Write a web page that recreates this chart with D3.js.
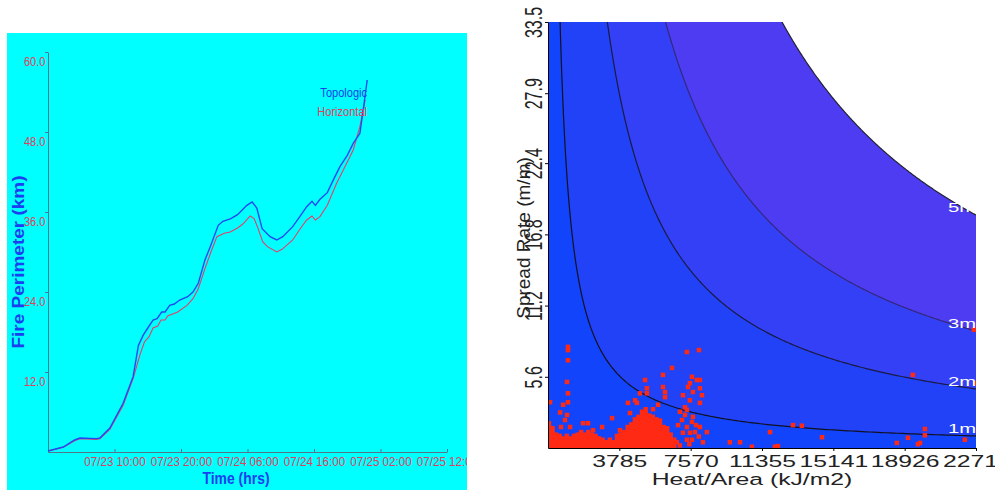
<!DOCTYPE html>
<html><head><meta charset="utf-8">
<script src="https://cdn.jsdelivr.net/npm/d3@7"></script>
<style>
html,body{margin:0;padding:0;background:#fff;}
svg{display:block;}
text{font-family:"Liberation Sans",Arial,sans-serif;}
</style></head><body>
<svg id="c" width="995" height="490"></svg>
<script>
// ===== Left chart: fire perimeter over time =====
const timeStart = "07/23 00:00";
const timeEnd = "07/25 12:00";
const timeTickLabels = ["07/23 10:00","07/23 20:00","07/24 06:00","07/24 16:00","07/25 02:00","07/25 12:00"];
const perimeterTicks = [12, 24, 36, 48, 60];
const seriesNames = ["Topologic", "Horizontal"];

// hours after 07/23 00:00 and perimeter (km)
const topoHours = [0,2.3,4.0,4.8,7.3,7.8,9.3,11.3,12.8,13.6,14.3,15.0,15.8,16.4,17.1,17.6,18.3,19.0,19.8,21.0,21.8,22.6,23.6,24.4,25.6,26.3,27.5,28.5,29.9,30.7,31.4,32.2,33.4,34.4,35.3,36.8,38.0,38.9,39.7,40.2,40.9,42.0,43.0,43.9,45.0,45.9,46.9,47.4,48.0];
const topoKm =    [0.15,0.75,1.8,2.1,2.0,2.1,3.6,7.3,11.3,16.0,17.5,18.6,19.8,20.0,21.0,21.0,22.0,22.2,22.8,23.3,24.0,25.3,28.8,30.8,34.0,34.6,35.0,35.6,37.0,37.5,36.6,33.5,32.3,31.8,32.3,33.8,35.5,36.8,37.6,37.0,37.9,38.9,41.0,42.8,44.5,46.3,47.8,51.3,55.8];
const horizHours = [0,2.3,4.0,4.8,7.3,7.8,9.3,11.3,12.8,13.8,14.5,15.2,15.8,16.5,17.0,17.6,18.0,19.5,20.9,21.8,22.6,23.6,24.5,25.4,26.5,27.4,28.5,29.3,30.4,31.0,31.6,32.3,33.0,34.4,35.2,36.8,38.0,38.9,39.7,40.2,40.9,42.0,43.4,44.5,45.9,46.9,47.7];
const horizKm =    [0.15,0.7,1.7,2.0,1.9,2.0,3.4,7.0,11.0,14.5,16.5,17.3,18.6,18.9,19.8,19.8,20.4,21.0,22.0,23.0,24.5,27.5,30.0,32.3,32.8,33.0,33.6,34.2,35.4,35.0,33.5,31.5,30.8,30.0,30.4,31.8,33.6,34.8,35.4,34.8,35.3,37.0,40.3,42.5,45.3,48.8,52.8];

// ===== Right chart: fire characteristics =====
const heatTicks = [3785, 7570, 11355, 15141, 18926, 22711];
const rateTicks = [5.6, 11.2, 16.8, 22.4, 27.9, 33.5];
const flameLabels = ["1m", "2m", "3m", "5m"];
const flameHR = [21500, 105500, 209000, 416000]; // heat/area x spread rate along each flame-length contour
const bandColors = ["#1244fb", "#2242f7", "#3440f5", "#4e3cf3"];
const contourColors = ["#111122", "#1a1a44", "#35287a", "#222233"];

// dense part of the observed points: [heat/area, [spread rates...]]
const denseColumns = [
 [50,[0.15,0.45,0.75,1.05,1.35,1.65,1.95]],
 [240,[0.05,0.35,0.65,0.95,1.25,1.55]],
 [430,[0.15,0.45,0.75,1.05]],
 [620,[0.05,0.35,0.65,0.95]],
 [810,[0.15,0.45,0.75]],
 [1000,[0.05,0.35,0.65,0.95]],
 [1190,[0.15,0.45,0.75]],
 [1380,[0.05,0.35,0.65,0.95]],
 [1570,[0.15,0.45,0.75,1.05]],
 [1760,[0.05,0.35,0.65,0.95,1.25]],
 [1950,[0.15,0.45,0.75,1.05]],
 [2140,[0.05,0.35,0.65,0.95,1.25]],
 [2330,[0.15,0.45,0.75,1.05]],
 [2520,[0.05,0.35,0.65,0.95]],
 [2710,[0.15,0.45,0.75]],
 [2900,[0.05,0.35,0.65]],
 [3090,[0.15,0.45]],
 [3280,[0.05,0.35,0.65]],
 [3470,[0.15,0.45]],
 [3660,[0.05,0.35,0.65,0.95]],
 [3850,[0.15,0.45,0.75,1.05]],
 [4040,[0.05,0.35,0.65,0.95,1.25]],
 [4230,[0.15,0.45,0.75,1.05,1.35,1.65]],
 [4420,[0.05,0.35,0.65,0.95,1.25,1.55,1.85]],
 [4610,[0.15,0.45,0.75,1.05,1.35,1.65,1.95,2.25]],
 [4800,[0.05,0.35,0.65,0.95,1.25,1.55,1.85,2.15,2.45]],
 [4990,[0.15,0.45,0.75,1.05,1.35,1.65,1.95,2.25,2.55,2.85]],
 [5180,[0.05,0.35,0.65,0.95,1.25,1.55,1.85,2.15,2.45,2.75,3.05]],
 [5370,[0.15,0.45,0.75,1.05,1.35,1.65,1.95,2.25,2.55]],
 [5560,[0.05,0.35,0.65,0.95,1.25,1.55,1.85,2.15,2.45]],
 [5750,[0.15,0.45,0.75,1.05,1.35,1.65,1.95,2.25]],
 [5940,[0.05,0.35,0.65,0.95,1.25,1.55,1.85,2.15]],
 [6130,[0.15,0.45,0.75,1.05,1.35,1.65]],
 [6320,[0.05,0.35,0.65,0.95,1.25,1.55]],
 [6510,[0.15,0.45,0.75,1.05]],
 [6700,[0.05,0.35,0.65]]
];
// scattered observed points: [heat/area, spread rate]
const scatterPoints = [
 [1060,7.95],[1060,7.7],[1060,6.9],[1010,5.2],[1060,4.3],[1060,3.6],[1010,2.6],[900,2.2],[800,3.4],[640,2.8],[110,3.6],[690,1.65],[1170,1.65],
 [1860,1.95],[2120,1.95],[2390,1.4],[2870,1.65],[3400,2.35],[3820,1.4],[4350,2.75],[4620,3.75],[4880,4.3],[5150,5.35],[5250,4.7],[5250,4.3],
 [6100,5.75],[6100,4.8],[6210,4.4],[6210,4.0],[4720,3.55],[4240,3.55],[5570,3.05],[5840,3.4],
 [6580,6.3],[7370,7.55],[8010,7.7],[7640,5.6],[7530,5.1],[8060,5.35],[8060,4.7],[7690,4.4],[7530,3.75],[7270,3.2],[7000,2.85],[7110,2.2],
 [7370,1.65],[7640,2.05],[7800,1.25],[8060,3.55],[8170,4.15],[7370,0.65],[8430,1.25],[7160,4.15],[7430,4.8],[7900,5.35],[7370,3.0],[7690,2.45],
 [8060,1.65],[7160,1.2],[7640,0.65],[8220,0.45],[6840,0.45],[7270,2.6],[6900,1.8],[7530,1.2],[7850,1.8],[7000,0.2],[7500,0.3],[8000,0.9],
 [9650,0.45],[10190,0.45],[11780,1.25],[13000,1.8],[13470,1.75],[14540,0.85],[12200,0.15],[12040,0.1],[10820,0.1],
 [18510,0.4],[19100,0.8],[19630,0.3],[19740,0.4],[20000,1.0],[20000,1.5],[22120,0.65],[19360,5.75],[22600,9.3],[22700,5.1]
];

const svg = d3.select("#c");
const defs = svg.append("defs");

// ---------- LEFT ----------
defs.append("clipPath").attr("id","lclip").append("rect")
  .attr("x",7).attr("y",33).attr("width",460).attr("height",457);
const lg = svg.append("g").attr("clip-path","url(#lclip)");
lg.append("rect").attr("x",7).attr("y",33).attr("width",460).attr("height",457).attr("fill","#00ffff");

const parseT = d3.timeParse("%m/%d %H:%M");
const t0 = parseT(timeStart), t1 = parseT(timeEnd);
const hoursToDate = h => new Date(t0.getTime() + h * 3600e3);
const xT = d3.scaleTime().domain([t0, t1]).range([48, 447]);
const yP = d3.scaleLinear().domain([0, 60]).range([452, 52]);
const axisCol = "#587488", tickCol = "#e0405e";

const xAxL = lg.append("g").attr("transform","translate(0,452)")
  .call(d3.axisBottom(xT).tickValues(timeTickLabels.map(parseT))
    .tickFormat(d3.timeFormat("%m/%d %H:%M")).tickSizeInner(-3).tickSizeOuter(0).tickPadding(5));
xAxL.select(".domain").attr("stroke", axisCol);
xAxL.selectAll(".tick line").attr("stroke", axisCol);
xAxL.selectAll(".tick text").attr("fill", tickCol).attr("font-size", 12.5)
  .attr("font-family", "Liberation Sans, Arial, sans-serif").attr("transform","scale(0.93,1)");

const yAxL = lg.append("g").attr("transform","translate(48,0)")
  .call(d3.axisLeft(yP).tickValues(perimeterTicks).tickFormat(d3.format(".1f"))
    .tickSizeInner(3).tickSizeOuter(0).tickPadding(0));
yAxL.select(".domain").attr("stroke", axisCol);
yAxL.selectAll(".tick line").attr("stroke", axisCol);
yAxL.selectAll(".tick text").attr("fill", tickCol).attr("font-size", 13).attr("y", 9)
  .attr("font-family", "Liberation Sans, Arial, sans-serif").attr("transform","scale(0.85,1)");

const lineL = d3.line().x(d => xT(hoursToDate(d[0]))).y(d => yP(d[1]));
lg.append("path").datum(horizHours.map((h,i) => [h, horizKm[i]]))
  .attr("d", lineL).attr("fill","none").attr("stroke","#e2406a").attr("stroke-width",1.1);
lg.append("path").datum(topoHours.map((h,i) => [h, topoKm[i]]))
  .attr("d", lineL).attr("fill","none").attr("stroke","#2448f0").attr("stroke-width",1.4);

lg.append("text").text(seriesNames[0]).attr("text-anchor","end").attr("font-size",13)
  .attr("fill","#1a3ee8").attr("transform","translate(367,97) scale(0.85,1)");
lg.append("text").text(seriesNames[1]).attr("text-anchor","end").attr("font-size",13)
  .attr("fill","#e0405a").attr("transform","translate(367,116) scale(0.85,1)");

lg.append("text").text("Fire Perimeter (km)").attr("text-anchor","middle")
  .attr("font-size",19).attr("font-weight","bold").attr("fill","#1a3ef0")
  .attr("transform","translate(24,262) rotate(-90) scale(1,0.82)");
lg.append("text").text("Time (hrs)").attr("text-anchor","middle")
  .attr("font-size",17).attr("font-weight","bold").attr("fill","#1a3ef0")
  .attr("transform","translate(236,484) scale(0.82,1)");

// ---------- RIGHT ----------
const xH = d3.scaleLinear().domain([0, 22711]).range([548, 976]);
const yR = d3.scaleLinear().domain([0, 33.5]).range([448, 22]);
const Hmax = xH.domain()[1], Rmax = yR.domain()[1];
defs.append("clipPath").attr("id","rclip").append("rect")
  .attr("x",548).attr("y",22).attr("width",428).attr("height",426);
const rg = svg.append("g").attr("clip-path","url(#rclip)");

function contourPts(C){
  const hs = C / Rmax;
  return d3.range(0, 301).map(i => {
    const h = hs * Math.pow(Hmax / hs, i / 300);
    return [xH(h), yR(C / h)];
  });
}
for (let k = flameHR.length - 1; k >= 0; k--) {
  const pts = contourPts(flameHR[k]);
  const poly = [[xH(0), yR(Rmax)], ...pts, [xH(Hmax), yR(0)], [xH(0), yR(0)]];
  rg.append("path").attr("d", "M" + poly.join("L") + "Z").attr("fill", bandColors[k]);
}
flameHR.forEach((C, k) => {
  rg.append("path").attr("d", d3.line()(contourPts(C))).attr("fill","none")
    .attr("stroke", contourColors[k]).attr("stroke-width", 1.2);
});

const allPoints = denseColumns.flatMap(([h, rs]) => rs.map(r => [h, r])).concat(scatterPoints);
rg.selectAll("rect.pt").data(allPoints).join("rect").attr("class","pt")
  .attr("x", d => xH(d[0]) - 2.25).attr("y", d => yR(d[1]) - 2.25)
  .attr("width", 4.5).attr("height", 4.5).attr("fill", "#ff2a14");

flameHR.forEach((C, k) => {
  rg.append("text").text(flameLabels[k]).attr("fill","#fff").attr("font-size",13.5)
    .attr("transform", `translate(${xH(Hmax) - 28},${yR(C / Hmax) - 3}) scale(1.5,1)`);
});

const xAxR = svg.append("g").attr("transform","translate(0,448)")
  .call(d3.axisBottom(xH).tickValues(heatTicks).tickFormat(d3.format("d"))
    .tickSizeInner(3).tickSizeOuter(0).tickPadding(4));
xAxR.select(".domain").attr("stroke","#000");
xAxR.selectAll(".tick line").attr("stroke","#000");
xAxR.selectAll(".tick text").attr("fill","#222").attr("font-size",16.5)
  .attr("font-family", "Liberation Sans, Arial, sans-serif").attr("transform","scale(1.5,1)");

const yAxR = svg.append("g").attr("transform","translate(548,0)")
  .call(d3.axisLeft(yR).tickValues(rateTicks).tickFormat(d3.format(".1f"))
    .tickSizeInner(3).tickSizeOuter(0));
yAxR.select(".domain").attr("stroke","#000");
yAxR.selectAll(".tick line").attr("stroke","#000");
yAxR.selectAll(".tick text").attr("fill","#222").attr("font-size",16)
  .attr("font-family", "Liberation Sans, Arial, sans-serif")
  .attr("x",0).attr("dy",null).attr("text-anchor","middle")
  .attr("transform","translate(-6,0) rotate(-90) scale(1,1.5)");

svg.append("text").text("Spread Rate (m/m)").attr("text-anchor","middle")
  .attr("font-size",19).attr("fill","#222")
  .attr("transform","translate(530,238) rotate(-90)");
svg.append("text").text("Heat/Area (kJ/m2)").attr("text-anchor","middle")
  .attr("font-size",16.5).attr("fill","#222")
  .attr("transform","translate(752,485) scale(1.5,1)");
</script>
</body></html>
